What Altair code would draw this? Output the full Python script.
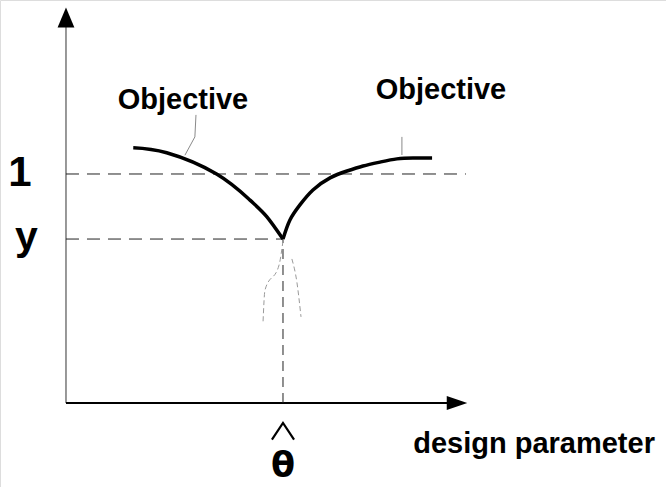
import altair as alt
import pandas as pd

# Normalised coordinates: design parameter theta (theta-hat = 1) and objective value (reference level = 1)
X_DOMAIN = [-0.3041, 2.765]
Y_DOMAIN = [-0.3668, 1.7598]

THETA_HAT = 1.0
Y_HAT = 0.716
LEVEL = 1.0

# Objective curve on each side of theta-hat
left_theta = [0.310, 0.464, 0.694, 0.848, 0.925, 1.0]
left_obj = [1.115, 1.093, 1.000, 0.886, 0.814, 0.716]
right_theta = [1.0, 1.032, 1.078, 1.138, 1.217, 1.295, 1.369, 1.447, 1.525, 1.599, 1.687]
right_obj = [0.716, 0.799, 0.865, 0.930, 0.983, 1.013, 1.035, 1.052, 1.066, 1.070, 1.070]

# Faint local branches below the minimum
branch_l_theta = [1.0, 0.982, 0.917, 0.908]
branch_l_obj = [0.708, 0.603, 0.493, 0.353]
branch_r_theta = [1.041, 1.064, 1.083]
branch_r_obj = [0.629, 0.528, 0.376]

# Leader lines from the labels to the curves
leader_l_theta = [0.599, 0.594, 0.548]
leader_l_obj = [1.258, 1.162, 1.082]
leader_r_theta = [1.548, 1.548]
leader_r_obj = [1.162, 1.083]

# Circumflex over the theta label
hat_theta = [0.949, 1.0, 1.051]
hat_obj = [-0.160, -0.087, -0.160]

# Axis extents
X_AXIS_END = 1.760
Y_AXIS_END = 1.642
X_ARROW_AT = 1.802
Y_ARROW_AT = 1.683

xs = alt.Scale(domain=X_DOMAIN, nice=False, zero=False)
ys = alt.Scale(domain=Y_DOMAIN, nice=False, zero=False)


def line_layer(thetas, vals, color="black", width=1.0, dash=None, interp="linear"):
    df = pd.DataFrame({"theta": thetas, "obj": vals, "order": range(len(thetas))})
    kw = dict(color=color, strokeWidth=width, interpolate=interp, clip=False)
    if dash is not None:
        kw["strokeDash"] = dash
    return alt.Chart(df).mark_line(**kw).encode(
        x=alt.X("theta:Q", scale=xs, axis=None),
        y=alt.Y("obj:Q", scale=ys, axis=None),
        order="order:Q",
    )


def text_layer(label, theta, val, size, weight="bold", font="Liberation Sans", align="center"):
    df = pd.DataFrame({"theta": [theta], "obj": [val], "label": [label]})
    return alt.Chart(df).mark_text(
        font=font, fontSize=size, fontWeight=weight, align=align,
        baseline="alphabetic", color="black",
    ).encode(
        x=alt.X("theta:Q", scale=xs, axis=None),
        y=alt.Y("obj:Q", scale=ys, axis=None),
        text="label:N",
    )


def arrow_layer(theta, val, shape, size):
    df = pd.DataFrame({"theta": [theta], "obj": [val]})
    return alt.Chart(df).mark_point(
        shape=shape, size=size, filled=True, color="black", opacity=1, strokeWidth=0,
    ).encode(
        x=alt.X("theta:Q", scale=xs, axis=None),
        y=alt.Y("obj:Q", scale=ys, axis=None),
    )


dash = [13, 8]

layers = [
    # axes
    line_layer([0, 0], [0, Y_AXIS_END], color="#333333", width=1.0),
    line_layer([0, X_AXIS_END], [0, 0], color="black", width=2.0),
    arrow_layer(0, Y_ARROW_AT, "M0,-1L0.84,1L-0.84,1Z", 400),
    arrow_layer(X_ARROW_AT, 0, "M1,0L-1,0.68L-1,-0.68Z", 420),
    # reference lines
    line_layer([0, 1.843], [LEVEL, LEVEL], color="#222222", width=1.0, dash=dash),
    line_layer([0, THETA_HAT], [Y_HAT, Y_HAT], color="#222222", width=1.0, dash=dash),
    line_layer([THETA_HAT, THETA_HAT], [0, Y_HAT], color="#222222", width=1.0, dash=[10, 6]),
    # faint branches and leaders
    line_layer(branch_l_theta, branch_l_obj, color="#9a9a9a", width=1.0, dash=[5, 3], interp="monotone"),
    line_layer(branch_r_theta, branch_r_obj, color="#9a9a9a", width=1.0, dash=[5, 3], interp="monotone"),
    line_layer(leader_l_theta, leader_l_obj, color="#8a8a8a", width=1.0),
    line_layer(leader_r_theta, leader_r_obj, color="#8a8a8a", width=1.0),
    # objective
    line_layer(left_theta, left_obj, width=3.5, interp="natural"),
    line_layer(right_theta, right_obj, width=3.5, interp="natural"),
    # labels
    text_layer("Objective", 0.539, 1.284, 29),
    text_layer("Objective", 1.728, 1.328, 29),
    text_layer("1", -0.212, 0.948, 42),
    text_layer("y", -0.182, 0.668, 41),
    text_layer("design parameter", 2.157, -0.218, 29),
    text_layer("θ", THETA_HAT, -0.323, 35, weight="bold", font="DejaVu Sans"),
    line_layer(hat_theta, hat_obj, width=2.2),
]

chart = alt.layer(*layers).properties(
    width=666, height=487, padding=0, autosize=alt.AutoSizeParams(type="none"),
).configure_view(stroke=None).configure(background="white")

chart.save("out.html", embed_options={"renderer": "svg", "actions": False})
